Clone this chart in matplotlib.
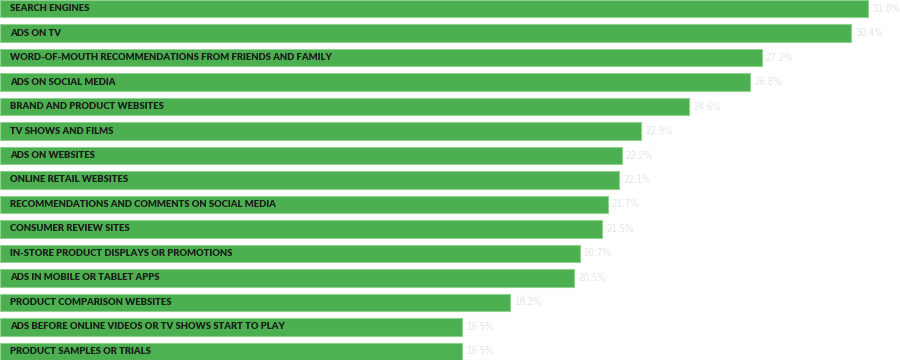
import matplotlib
matplotlib.use("Agg")
import matplotlib.pyplot as plt

categories = [
    "SEARCH ENGINES",
    "ADS ON TV",
    "WORD-OF-MOUTH RECOMMENDATIONS FROM FRIENDS AND FAMILY",
    "ADS ON SOCIAL MEDIA",
    "BRAND AND PRODUCT WEBSITES",
    "TV SHOWS AND FILMS",
    "ADS ON WEBSITES",
    "ONLINE RETAIL WEBSITES",
    "RECOMMENDATIONS AND COMMENTS ON SOCIAL MEDIA",
    "CONSUMER REVIEW SITES",
    "IN-STORE PRODUCT DISPLAYS OR PROMOTIONS",
    "ADS IN MOBILE OR TABLET APPS",
    "PRODUCT COMPARISON WEBSITES",
    "ADS BEFORE ONLINE VIDEOS OR TV SHOWS START TO PLAY",
    "PRODUCT SAMPLES OR TRIALS",
]
values = [31.0, 30.4, 27.2, 26.8, 24.6, 22.9, 22.2, 22.1, 21.7, 21.5, 20.7, 20.5, 18.2, 16.5, 16.5]

fig = plt.figure(figsize=(9, 3.6), dpi=100)
ax = fig.add_axes([0, 0, 1, 1])
h = 0.694
ypos = list(range(len(values)))
ax.barh(ypos, values, height=h, color="#4caf50", edgecolor="#8fd18f", linewidth=0.8)
ax.set_xlim(0, 900 / 28.0)
ax.set_ylim(len(values) - 1 + h / 2, -h / 2)
ax.axis("off")

for y, (c, v) in enumerate(zip(categories, values)):
    ax.text(0.36, y, c, va="center", ha="left", fontsize=6.8, fontweight="heavy",
            family=["Lato", "DejaVu Sans"], color="#1a1f1a")
    ax.text(v + 0.15, y, f"{v:.1f}%", va="center", ha="left", fontsize=7.0,
            family=["DejaVu Sans"], fontstretch="condensed", color="#e4e4e4")

fig.savefig("out.png", dpi=100)
